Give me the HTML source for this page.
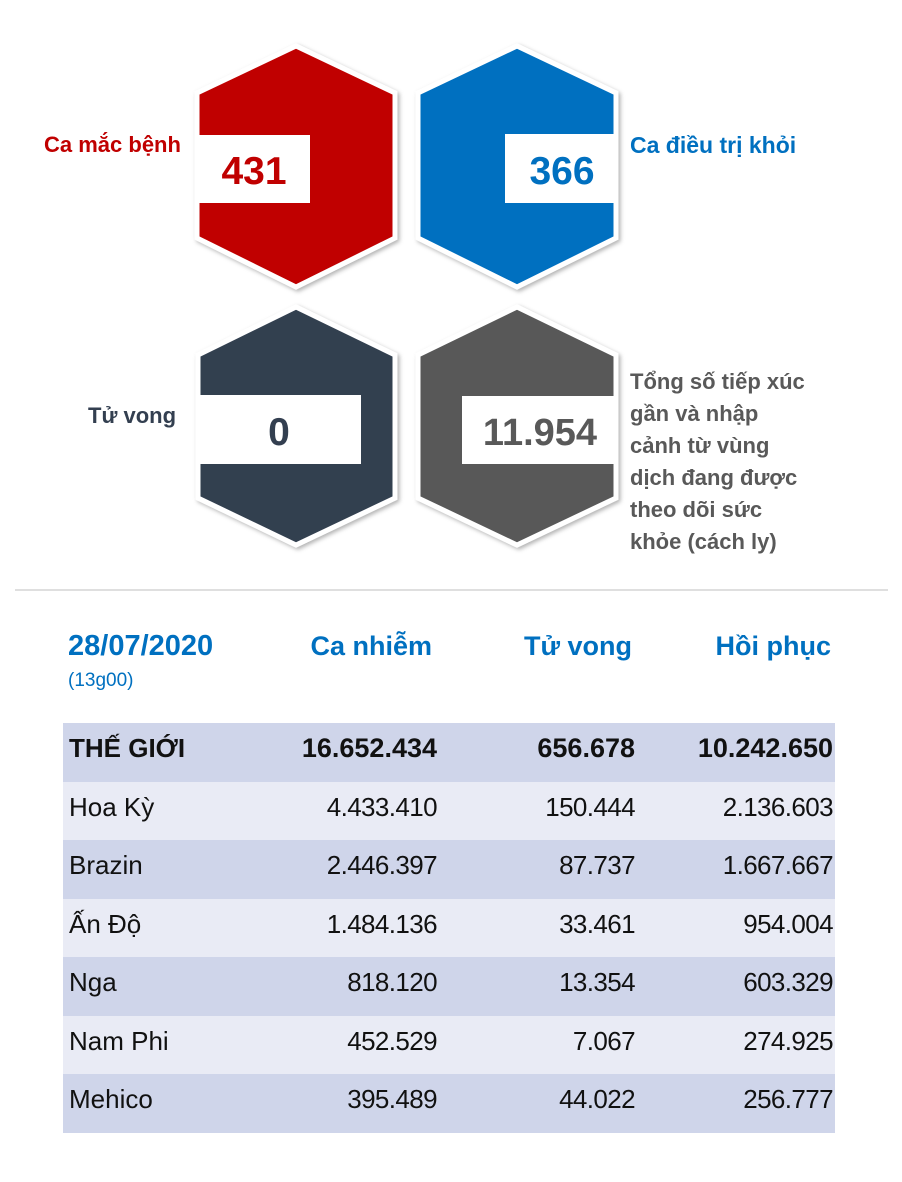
<!DOCTYPE html>
<html><head><meta charset="utf-8"><style>
body{margin:0;width:902px;height:1182px;background:#fff;font-family:"Liberation Sans",sans-serif;position:relative;overflow:hidden}
.t{position:absolute;white-space:nowrap}
.row{position:absolute;left:63px;width:772px;height:59px}
.c{position:absolute;top:10px;font-size:26px;color:#111;letter-spacing:-0.6px}
.n{left:6px;letter-spacing:0}
.b{font-weight:bold;font-size:27px;letter-spacing:0}
</style></head><body>
<svg width="902" height="600" style="position:absolute;left:0;top:0">
<defs><filter id="s" x="-10%" y="-10%" width="120%" height="120%"><feDropShadow dx="2" dy="2" stdDeviation="2" flood-opacity="0.3"/></filter></defs>
<g filter="url(#s)" stroke="#fff" stroke-width="5" stroke-linejoin="miter">
<polygon points="296,46 395,93 395,238 296,287 197,238 197,93" fill="#c00000"/>
<polygon points="517,46 616,93 616,238 517,287 418,238 418,93" fill="#0070c0"/>
<polygon points="296,307 395,355 395,498 296,545 198,498 198,355" fill="#333f50"/>
<polygon points="517,307 616,355 616,498 517,545 418,498 418,355" fill="#595959"/>
</g>
<rect x="197" y="135" width="113" height="68" fill="#fff"/>
<rect x="505" y="134" width="111" height="69" fill="#fff"/>
<rect x="198" y="395" width="163" height="69" fill="#fff"/>
<rect x="462" y="396" width="154" height="68" fill="#fff"/>
<text x="254" y="184" text-anchor="middle" font-family="Liberation Sans" font-weight="bold" font-size="39" fill="#c00000">431</text>
<text x="562" y="184" text-anchor="middle" font-family="Liberation Sans" font-weight="bold" font-size="39" fill="#0070c0">366</text>
<text x="279" y="445" text-anchor="middle" font-family="Liberation Sans" font-weight="bold" font-size="39" fill="#333f50">0</text>
<text x="540" y="445" text-anchor="middle" font-family="Liberation Sans" font-weight="bold" font-size="38" fill="#595959">11.954</text>
<line x1="15" y1="590" x2="888" y2="590" stroke="#bfbfbf" stroke-width="1"/>
</svg>
<div class="t" style="left:44px;top:132px;font-size:22px;font-weight:bold;color:#c00000">Ca mắc bệnh</div>
<div class="t" style="left:630px;top:132px;font-size:23px;font-weight:bold;color:#0070c0">Ca điều trị khỏi</div>
<div class="t" style="left:88px;top:403px;font-size:22px;font-weight:bold;color:#333f50">Tử vong</div>
<div class="t" style="left:630px;top:366px;font-size:22px;font-weight:bold;color:#595959;line-height:32px">Tổng số tiếp xúc<br>gần và nhập<br>cảnh từ vùng<br>dịch đang được<br>theo dõi sức<br>khỏe (cách ly)</div>
<div class="t" style="left:68px;top:630px;font-size:29px;font-weight:bold;color:#0070c0">28/07/2020</div>
<div class="t" style="left:68px;top:670px;font-size:19px;color:#0070c0">(13g00)</div>
<div class="t" style="right:470px;top:631px;font-size:27px;font-weight:bold;color:#0070c0">Ca nhiễm</div>
<div class="t" style="right:270px;top:631px;font-size:27px;font-weight:bold;color:#0070c0">Tử vong</div>
<div class="t" style="right:71px;top:631px;font-size:27px;font-weight:bold;color:#0070c0">Hồi phục</div>

<div class="row" style="top:723px;background:#cfd5ea"><span class="c b" style="left:6px;font-size:26px">THẾ GIỚI</span><span class="c b" style="right:398px">16.652.434</span><span class="c b" style="right:200px">656.678</span><span class="c b" style="right:2px">10.242.650</span></div>
<div class="row" style="top:782px;background:#e9ebf5"><span class="c n">Hoa Kỳ</span><span class="c" style="right:398px">4.433.410</span><span class="c" style="right:200px">150.444</span><span class="c" style="right:2px">2.136.603</span></div>
<div class="row" style="top:840px;background:#cfd5ea"><span class="c n">Brazin</span><span class="c" style="right:398px">2.446.397</span><span class="c" style="right:200px">87.737</span><span class="c" style="right:2px">1.667.667</span></div>
<div class="row" style="top:899px;background:#e9ebf5"><span class="c n">Ấn Độ</span><span class="c" style="right:398px">1.484.136</span><span class="c" style="right:200px">33.461</span><span class="c" style="right:2px">954.004</span></div>
<div class="row" style="top:957px;background:#cfd5ea"><span class="c n">Nga</span><span class="c" style="right:398px">818.120</span><span class="c" style="right:200px">13.354</span><span class="c" style="right:2px">603.329</span></div>
<div class="row" style="top:1016px;background:#e9ebf5"><span class="c n">Nam Phi</span><span class="c" style="right:398px">452.529</span><span class="c" style="right:200px">7.067</span><span class="c" style="right:2px">274.925</span></div>
<div class="row" style="top:1074px;background:#cfd5ea"><span class="c n">Mehico</span><span class="c" style="right:398px">395.489</span><span class="c" style="right:200px">44.022</span><span class="c" style="right:2px">256.777</span></div>
</body></html>
